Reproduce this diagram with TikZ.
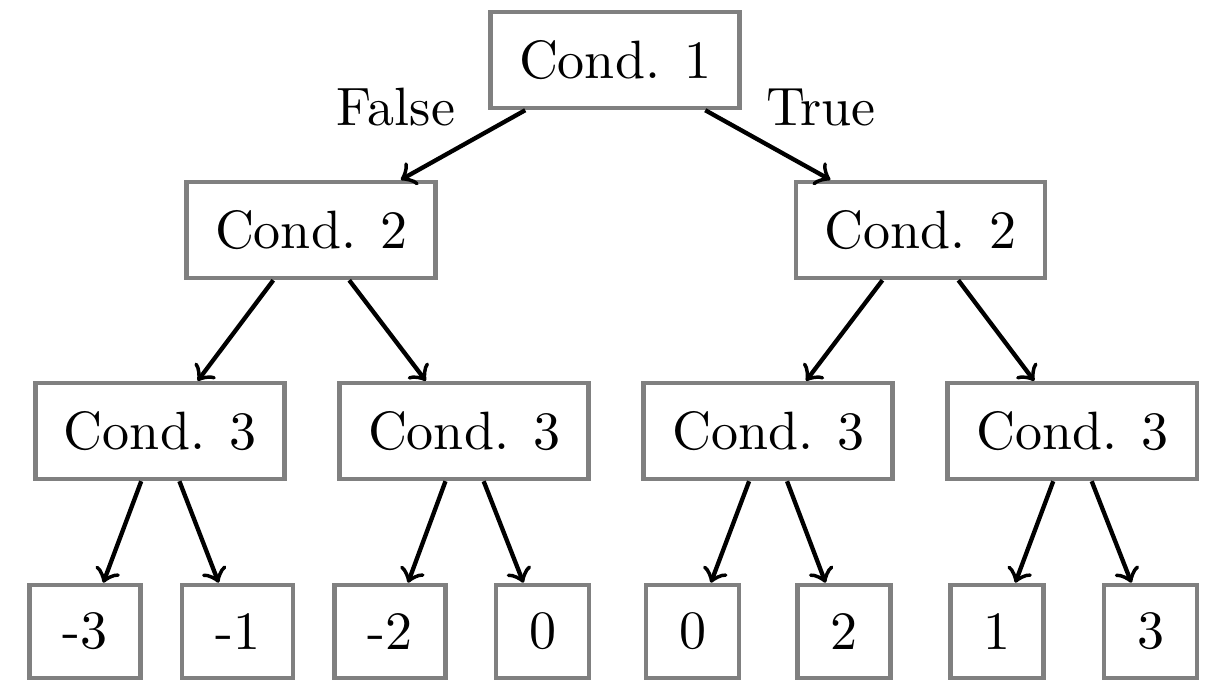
\documentclass[tikz,border=0pt]{standalone}
\usetikzlibrary{arrows}
\begin{document}
\begin{tikzpicture}[x=0.18519pt,y=-0.18519pt,
  box/.style={draw=gray,line width=0.8pt,inner xsep=5.3pt,inner ysep=5pt,minimum height=17.8pt,fill=white},
  leaf/.style={box,inner xsep=6.1pt,minimum height=17.3pt},
  lbl/.style={anchor=base,inner sep=0pt},
  conn/.style={->,line width=0.8pt,black}]
\useasboundingbox (0,0) rectangle (1220,688);
% root
\node[box] (r) at (615,60) {Cond. 1};
% level 2
\node[box] (a) at (311,230) {Cond. 2};
\node[box] (b) at (920.5,230) {Cond. 2};
% level 3
\node[box] (aa) at (160,431) {Cond. 3};
\node[box] (ab) at (464,431) {Cond. 3};
\node[box] (ba) at (768,431) {Cond. 3};
\node[box] (bb) at (1072,431) {Cond. 3};
% leaves
\node[leaf] (l1) at (85,631.5) {-3};
\node[leaf] (l2) at (237.5,631.5) {-1};
\node[leaf] (l3) at (390,631.5) {-2};
\node[leaf] (l4) at (542.5,631.5) {0};
\node[leaf] (l5) at (692.5,631.5) {0};
\node[leaf] (l6) at (844,631.5) {2};
\node[leaf] (l7) at (997,631.5) {1};
\node[leaf] (l8) at (1150.5,631.5) {3};
% labels
\node[lbl] (fl) at (396,125) {False};
\node[lbl] (tl) at (821,125) {True};
% connectors
\draw[conn] (r) -- (a);
\draw[conn] (r) -- (b);
\draw[conn] (a) -- (aa);
\draw[conn] (a) -- (ab);
\draw[conn] (b) -- (ba);
\draw[conn] (b) -- (bb);
\draw[conn] (aa) -- (l1);
\draw[conn] (aa) -- (l2);
\draw[conn] (ab) -- (l3);
\draw[conn] (ab) -- (l4);
\draw[conn] (ba) -- (l5);
\draw[conn] (ba) -- (l6);
\draw[conn] (bb) -- (l7);
\draw[conn] (bb) -- (l8);
\end{tikzpicture}
\end{document}
